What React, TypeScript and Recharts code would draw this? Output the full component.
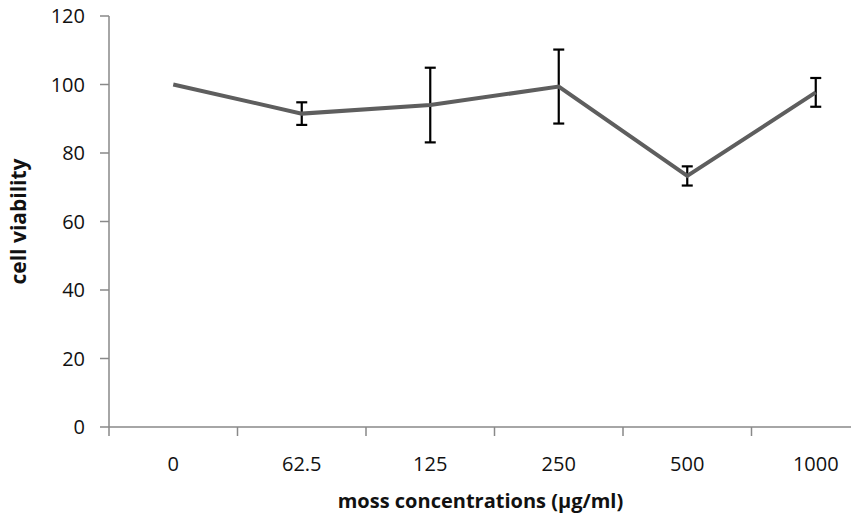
import { LineChart, Line, XAxis, YAxis, ErrorBar } from 'recharts';

const concentrations = ['0', '62.5', '125', '250', '500', '1000'];
const viability = [100, 91.5, 94, 99.4, 73.3, 97.7];
const viabilityError = [null, 3.3, 10.9, 10.8, 2.8, 4.2];
const yTicks = [0, 20, 40, 60, 80, 100, 120];

// category i sits in the middle of slot [i, i+1] so the tick marks fall between categories
const data = concentrations.map((c, i) => ({
  conc: c,
  slot: i + 0.5,
  viability: viability[i],
  err: viabilityError[i],
}));
const xTicks = [0, ...data.flatMap(d => [d.slot, d.slot + 0.5])];

const font = '"Open Sans", sans-serif';
const axisGray = '#898989';
const textColor = '#111';

function XTick(props: any) {
  const { x, y, payload } = props;
  const v = payload.value as number;
  if (Number.isInteger(v)) {
    return <line x1={x} y1={y} x2={x} y2={y + 9} stroke={axisGray} strokeWidth={1.5} />;
  }
  const d = data.find(e => e.slot === v);
  return (
    <text x={x} y={y + 44} textAnchor="middle" fill={textColor} fontSize={20} fontFamily={font}>
      {d ? d.conc : ''}
    </text>
  );
}

function YTick(props: any) {
  const { x, y, payload } = props;
  return (
    <text x={x} y={y} dy={7} textAnchor="end" fill={textColor} fontSize={20} fontFamily={font}>
      {payload.value}
    </text>
  );
}

export default function App() {
  return (
    <div style={{ position: 'fixed', left: 0, top: 0, width: 851, height: 518, overflow: 'hidden', background: '#fff' }}>
      <LineChart width={900} height={518} data={data} margin={{ top: 16, right: 20, bottom: 0, left: 0 }}>
        <XAxis
          dataKey="slot"
          type="number"
          domain={[0, concentrations.length]}
          ticks={xTicks}
          interval={0}
          height={91}
          tickSize={0}
          tickMargin={0}
          tickLine={false}
          tick={<XTick />}
          stroke={axisGray}
          strokeWidth={1.5}
          label={{
            value: 'moss concentrations (µg/ml)',
            position: 'insideBottom',
            offset: 10,
            dx: -14,
            style: { fill: textColor, fontSize: 20, fontWeight: 700, fontFamily: font },
          }}
        />
        <YAxis
          width={109}
          domain={[0, 120]}
          ticks={yTicks}
          interval={0}
          tickSize={9}
          tickMargin={15}
          stroke={axisGray}
          strokeWidth={1.5}
          tick={<YTick />}
          label={{
            value: 'cell viability',
            angle: -90,
            position: 'insideLeft',
            offset: 19,
            style: { textAnchor: 'middle', fill: textColor, fontSize: 21, fontWeight: 700, fontFamily: font },
          }}
        />
        <Line
          type="linear"
          dataKey="viability"
          stroke="#5e5e5e"
          strokeWidth={4}
          dot={false}
          activeDot={false}
          isAnimationActive={false}
        >
          <ErrorBar dataKey="err" width={5.5} stroke="#000" strokeWidth={2.2} />
        </Line>
      </LineChart>
    </div>
  );
}
